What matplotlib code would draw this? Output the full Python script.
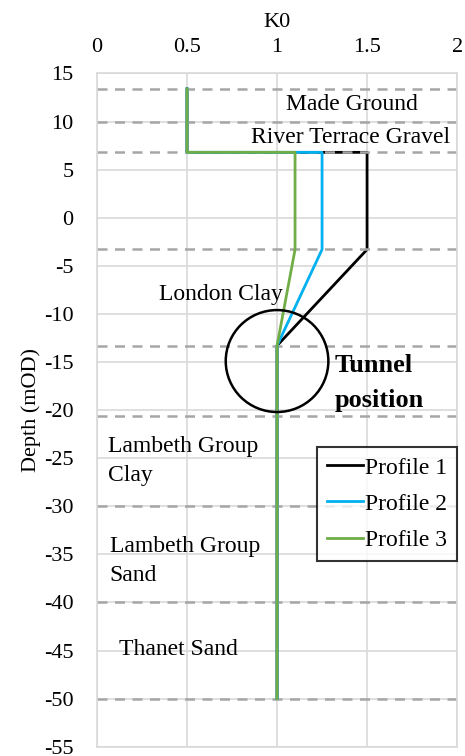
import matplotlib
matplotlib.use("Agg")
import matplotlib.pyplot as plt
from matplotlib.patches import Ellipse

# K0 profiles: depth (mOD) vs K0
depth = [13.4, 6.8, 6.8, -3.3, -13.3, -50]
k0_profile1 = [0.5, 0.5, 1.5, 1.5, 1.0, 1.0]
k0_profile2 = [0.5, 0.5, 1.25, 1.25, 1.0, 1.0]
k0_profile3 = [0.5, 0.5, 1.1, 1.1, 1.0, 1.0]

# stratum boundaries
boundaries = [13.4, 10, 6.8, -3.3, -13.3, -20.6, -30, -40, -50]

# tunnel
tunnel_center = (1.0, -14.9)
tunnel_width = 0.57
tunnel_height = 10.6

plt.rcParams["font.family"] = ["Liberation Serif", "DejaVu Serif"]
plt.rcParams["font.size"] = 16
plt.rcParams["axes.unicode_minus"] = False

fig = plt.figure(figsize=(4.65, 7.56), dpi=100)
ax = fig.add_axes([0.2086, 0.0123, 0.7744, 0.8905])

ax.set_xlim(0, 2)
ax.set_ylim(-55, 15)
ax.set_xticks([0, 0.5, 1, 1.5, 2])
ax.set_xticklabels(["0", "0.5", "1", "1.5", "2"])
ax.set_yticks(range(-55, 16, 5))
ax.xaxis.tick_top()
ax.xaxis.set_label_position("top")
ax.tick_params(axis="x", length=0, pad=12)
ax.tick_params(axis="y", length=0, pad=17)
ax.grid(color="#d9d9d9", linewidth=1.2)
ax.set_axisbelow(True)
for s in ax.spines.values():
    s.set_color("#d9d9d9")
    s.set_linewidth(1.2)

ax.set_xlabel("K0", labelpad=8)
ax.set_ylabel("Depth (mOD)", labelpad=2)

ax.plot(k0_profile1, depth, color="black", linewidth=2, label="Profile 1", zorder=2)
for b in boundaries:
    ax.axhline(b, color="#a6a6a6", linestyle=(0, (4, 3)), linewidth=1.8, zorder=2.5)
ax.plot(k0_profile2, depth, color="#00b0f0", linewidth=2, label="Profile 2", zorder=3)
ax.plot(k0_profile3, depth, color="#70ad47", linewidth=2, label="Profile 3", zorder=3)

ax.add_patch(Ellipse(tunnel_center, tunnel_width, tunnel_height, fill=False,
                     edgecolor="black", linewidth=1.8, zorder=4))

ax.text(1.78, 11.8, "Made Ground", ha="right", va="center", fontsize=17)
ax.text(1.96, 8.3, "River Terrace Gravel", ha="right", va="center", fontsize=17)
ax.text(1.03, -8.0, "London Clay", ha="right", va="center", fontsize=17)
ax.text(1.32, -17.2, "Tunnel\nposition", ha="left", va="center", fontweight="bold",
        fontsize=19, linespacing=1.7)
ax.text(0.06, -25.3, "Lambeth Group\nClay", ha="left", va="center", fontsize=17, linespacing=1.5)
ax.text(0.07, -35.7, "Lambeth Group\nSand", ha="left", va="center", fontsize=17, linespacing=1.5)
ax.text(0.12, -44.9, "Thanet Sand", ha="left", va="center", fontsize=17)

leg = ax.legend(loc="upper right", bbox_to_anchor=(1.0, 0.445), frameon=True, fancybox=False,
                fontsize=17, handlelength=1.5, handletextpad=0.1, borderpad=0.42,
                labelspacing=0.62, borderaxespad=0)
leg.get_frame().set_edgecolor("black")
leg.get_frame().set_linewidth(1.5)

fig.savefig("out.png", dpi=100)
